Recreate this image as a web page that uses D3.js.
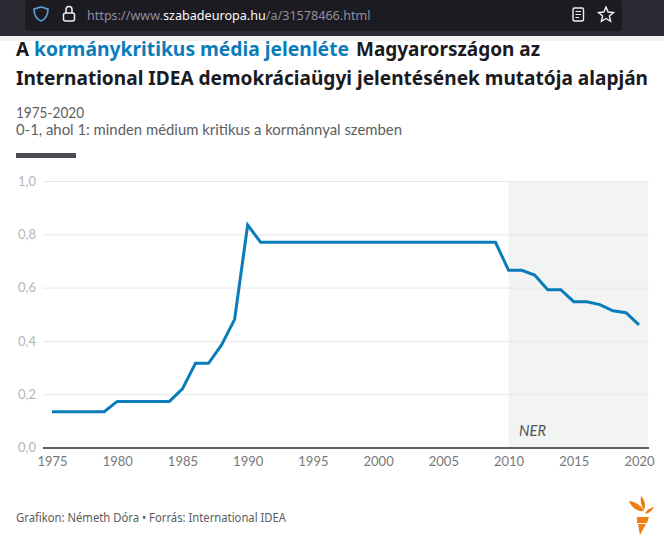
<!DOCTYPE html>
<html>
<head>
<meta charset="utf-8">
<script src="https://cdn.jsdelivr.net/npm/d3@7"></script>
<style>
    html, body { margin: 0; padding: 0; background: #fff; overflow: hidden; }
    text { font-family: "Noto Sans", Lato, sans-serif; }
</style>
</head>
<body>
<script>
var years = d3.range(1975, 2021);
var values = [
    0.134, 0.134, 0.134, 0.134, 0.134,
    0.173, 0.173, 0.173, 0.173, 0.173,
    0.22, 0.316, 0.316, 0.385, 0.481,
    0.835, 0.77, 0.77, 0.77, 0.77,
    0.77, 0.77, 0.77, 0.77, 0.77,
    0.77, 0.77, 0.77, 0.77, 0.77,
    0.77, 0.77, 0.77, 0.77, 0.77,
    0.665, 0.665, 0.647, 0.592, 0.592,
    0.547, 0.547, 0.536, 0.513, 0.506,
    0.46
];
var xTicks = [1975, 1980, 1985, 1990, 1995, 2000, 2005, 2010, 2015, 2020];
var yTicks = [0, 0.2, 0.4, 0.6, 0.8, 1];
var nerRange = [2010, 2020.7];

var width = 664;
var height = 544;

var svg = d3.select("body").append("svg")
            .attr("width", width)
            .attr("height", height)
            .style("display", "block");

// squeezes a text to the width it has in the reference, the font there is narrower
function fitted(xPos, yPos, size, len, weight, fill, str) {
    return svg.append("text")
              .attr("x", xPos)
              .attr("y", yPos)
              .attr("textLength", len)
              .attr("lengthAdjust", "spacingAndGlyphs")
              .style("font-size", size + "px")
              .style("font-weight", weight)
              .attr("fill", fill)
              .text(str);
}

// browser chrome on top of the screenshot
svg.append("rect").attr("width", width).attr("height", 36).attr("fill", "#2b2a33");
svg.append("rect").attr("x", 25).attr("width", 597).attr("height", 31).attr("rx", 4).attr("fill", "#1c1b22");
svg.append("rect").attr("y", 36).attr("width", width).attr("height", 5).attr("fill", "#f1f2f1");

var icons = svg.append("g").attr("transform", "translate(0, -2)");
icons.append("path")
   .attr("d", "M41 9 C37 10 35 11 34 11 C34 17 36 21 41 23 C46 21 48 17 48 11 C47 11 45 10 41 9 Z")
   .attr("fill", "none").attr("stroke", "#5a9fd4").attr("stroke-width", 1.6);
icons.append("rect").attr("x", 63.5).attr("y", 15).attr("width", 11).attr("height", 8).attr("rx", 2)
   .attr("fill", "none").attr("stroke", "#f0f0f4").attr("stroke-width", 1.5);
icons.append("path").attr("d", "M66 15 V11.5 C66 7.5 72 7.5 72 11.5 V15")
   .attr("fill", "none").attr("stroke", "#f0f0f4").attr("stroke-width", 1.5);
icons.append("rect").attr("x", 573).attr("y", 10).attr("width", 10.5).attr("height", 13).attr("rx", 1.5)
   .attr("fill", "none").attr("stroke", "#f0f0f4").attr("stroke-width", 1.4);
icons.append("path").attr("d", "M575.5 13.5 H581 M575.5 16.5 H581 M575.5 19.5 H579")
   .attr("stroke", "#f0f0f4").attr("stroke-width", 1);
icons.append("path").attr("d", "M606 9 L608.1 14 L613.5 14.5 L609.4 18 L610.6 23.3 L606 20.5 L601.4 23.3 L602.6 18 L598.5 14.5 L603.9 14 Z")
   .attr("fill", "none").attr("stroke", "#f0f0f4").attr("stroke-width", 1.4);

var url = svg.append("text").attr("x", 87).attr("y", 20)
             .style("font-size", "12.6px").attr("fill", "#8f8f9d");
url.append("tspan").text("https://www.");
url.append("tspan").attr("fill", "#fbfbfe").text("szabadeuropa.hu");
url.append("tspan").text("/a/31578466.html");

// title block
fitted(16, 56, 19.5, 13, 700, "#1a1a20", "A");
fitted(34, 56, 19.5, 315, 700, "#0b7cba", "kormánykritikus média jelenléte");
fitted(356, 56, 19.5, 184, 700, "#1a1a20", "Magyarországon az");
fitted(16, 85, 19.5, 632, 700, "#1a1a20", "International IDEA demokráciaügyi jelentésének mutatója alapján");

fitted(16, 118, 15, 68, 400, "#5c5e62", "1975-2020").style("font-family", "Lato");
fitted(16, 135, 15, 386, 400, "#5c5e62", "0-1, ahol 1: minden médium kritikus a kormánnyal szemben").style("font-family", "Lato");

svg.append("rect").attr("x", 16).attr("y", 153).attr("width", 60).attr("height", 5).attr("fill", "#4a4c52");

// chart
var x = d3.scaleLinear().domain([1975, 2020]).range([52, 639]);
var y = d3.scaleLinear().domain([0, 1]).range([447.5, 181]);

svg.append("rect")
   .attr("x", x(nerRange[0]))
   .attr("y", y(1))
   .attr("width", x(nerRange[1]) - x(nerRange[0]))
   .attr("height", y(0) - y(1))
   .attr("fill", "#f2f3f3");

var yAxis = d3.axisLeft(y)
              .tickValues(yTicks)
              .tickSize(0)
              .tickPadding(7)
              .tickFormat(function(d) { return d3.format(".1f")(d).replace(".", ","); });

var yG = svg.append("g").attr("transform", "translate(43, 0)").call(yAxis);
yG.select(".domain").remove();
yG.selectAll(".tick line")
  .attr("x2", 606)
  .attr("stroke", function(d) { return d === 0 ? "#2b2b2f" : "#e6e7e7"; })
  .attr("stroke-width", function(d) { return d === 0 ? 1.3 : 1; });
yG.selectAll("text").style("font-size", "13px").style("font-family", "Lato").attr("fill", "#b4b5b6");

var xAxis = d3.axisBottom(x)
              .tickValues(xTicks)
              .tickSize(0)
              .tickPadding(9)
              .tickFormat(d3.format("d"));

var xG = svg.append("g").attr("transform", "translate(0, 447.5)").call(xAxis);
xG.select(".domain").remove();
xG.selectAll("text").style("font-size", "13px").style("font-family", "Lato").attr("fill", "#77787a");

var line = d3.line()
             .x(function(d, i) { return x(years[i]); })
             .y(function(d) { return y(d); });

svg.append("path")
   .datum(values)
   .attr("d", line)
   .attr("fill", "none")
   .attr("stroke", "#0b7cba")
   .attr("stroke-width", 3);

fitted(519, 436, 15, 27, 400, "#54565b", "NER").style("font-style", "italic").style("font-family", "Lato");

// footer
fitted(16, 522, 12, 270, 400, "#5a5c60", "Grafikon: Németh Dóra • Forrás: International IDEA");

// torch logo
var logo = svg.append("g").attr("fill", "#ef7d14");
logo.append("path").attr("d", "M629 501 C634 501 641 505 644 511 C637 512 631 507 629 501 Z");
logo.append("path").attr("d", "M641 496 C645 500 646 505 644 510 C641 506 640 501 641 496 Z");
logo.append("path").attr("d", "M654 507 C652 511 649 513 645 514 C646 510 650 508 654 507 Z");
logo.append("path").attr("d", "M637 517 H649 L647 523 H637 Z");
logo.append("path").attr("d", "M638 524 H646 L640 535 Z");
</script>
</body>
</html>
